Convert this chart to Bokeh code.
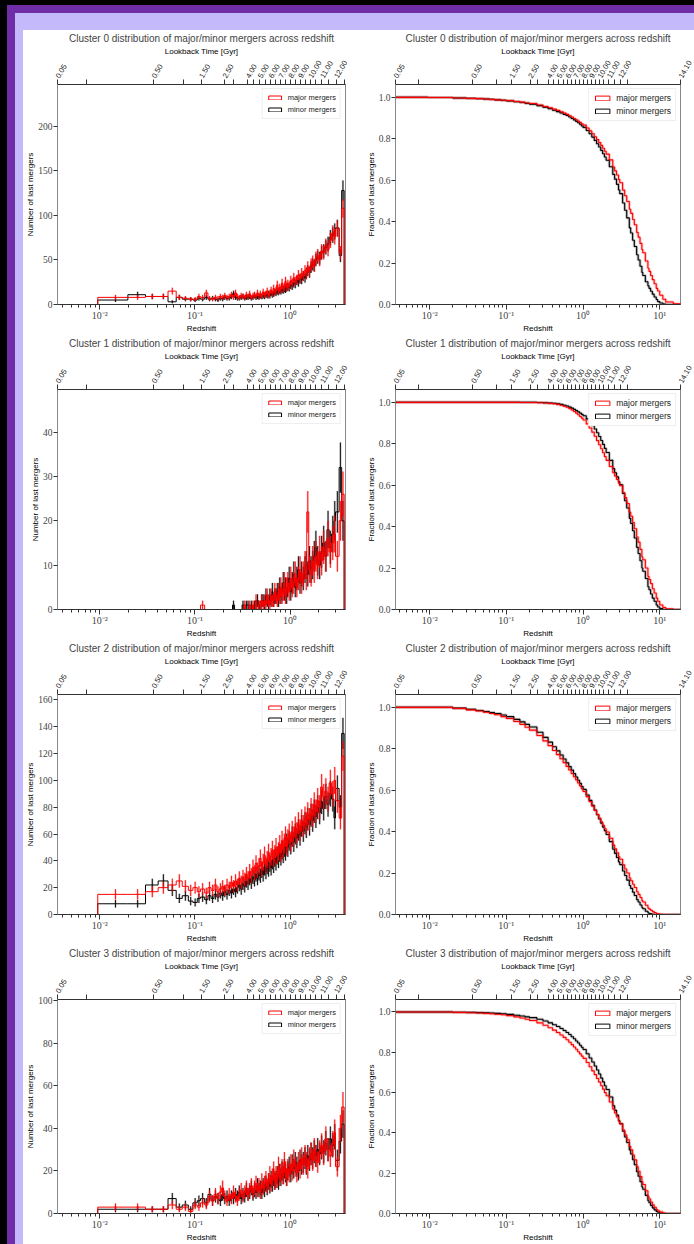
import numpy as np
from math import radians
from bokeh.plotting import figure
from bokeh.layouts import gridplot, column
from bokeh.models import (LogAxis, FixedTicker, CustomJSTickFormatter, Range1d,
                          Legend, LegendItem, PrintfTickFormatter)
from bokeh.embed import file_html
from bokeh.resources import INLINE

# ---------------- data ----------------
clusters = [0, 1, 2, 3]

# histogram bin edges (snapshot redshifts)
z_edges = [
    0.0095, 0.0197, 0.0302, 0.0410, 0.0521, 0.0635, 0.0735, 0.0852, 0.0951, 0.1058,
    0.1143, 0.1265, 0.1370, 0.1477, 0.1587, 0.1698, 0.1793, 0.1911, 0.2000, 0.2115,
    0.2235, 0.2357, 0.2482, 0.2609, 0.2738, 0.2855, 0.3000, 0.3132, 0.3267, 0.3405,
    0.3545, 0.3689, 0.3835, 0.4000, 0.4153, 0.4309, 0.4468, 0.4629, 0.4794, 0.4962,
    0.5133, 0.5307, 0.5485, 0.5665, 0.5849, 0.6037, 0.6228, 0.6422, 0.6621, 0.6823,
    0.7000, 0.7240, 0.7456, 0.7676, 0.7900, 0.8129, 0.8362, 0.8600, 0.8843, 0.9090,
    0.9343, 0.9600, 1.0000, 1.0358, 1.0738, 1.1141, 1.1565, 1.2013, 1.2486, 1.2986,
    1.3513, 1.4071, 1.4660, 1.5000, 1.5728, 1.6332, 1.6966, 1.7632, 1.8330, 1.9064,
    2.0000, 2.0978, 2.2000, 2.3155, 2.4442, 2.5772, 2.7324, 2.8960, 3.0081, 3.2830,
    3.4908, 3.7087]

c0_major = [8, 8, 9, 9, 15, 8, 7, 6, 6, 9,
            8, 13, 7, 6, 8, 7, 9, 8, 10, 8,
            9, 11, 8, 13, 9, 8, 10, 9, 8, 11,
            9, 12, 8, 10, 11, 9, 13, 10, 12, 9,
            14, 11, 12, 15, 10, 13, 16, 12, 18, 14,
            16, 22, 15, 19, 17, 24, 18, 20, 26, 19,
            23, 21, 27, 24, 30, 26, 28, 33, 29, 35,
            32, 38, 34, 42, 37, 45, 48, 43, 52, 55,
            50, 60, 58, 66, 62, 72, 80, 76, 85, 58,
            108]
c0_minor = [5, 11, 9, 9, 3, 8, 6, 6, 5, 7,
            6, 8, 6, 7, 6, 5, 7, 6, 8, 7,
            7, 9, 12, 8, 7, 7, 8, 9, 7, 8,
            8, 9, 7, 8, 10, 8, 9, 8, 10, 9,
            10, 9, 11, 10, 12, 10, 13, 11, 12, 14,
            13, 15, 14, 16, 15, 17, 16, 18, 17, 19,
            20, 19, 22, 21, 24, 23, 27, 25, 29, 28,
            32, 30, 35, 38, 36, 42, 45, 44, 50, 53,
            52, 58, 60, 64, 68, 75, 78, 82, 86, 55,
            128]
c1_major = [0, 0, 0, 0, 0, 0, 0, 0, 0, 0,
            1, 0, 0, 0, 0, 0, 0, 0, 0, 0,
            0, 0, 0, 0, 0, 0, 0, 0, 1, 0,
            0, 1, 0, 1, 0, 2, 0, 1, 1, 2,
            1, 2, 1, 3, 2, 1, 3, 2, 2, 4,
            3, 2, 4, 3, 5, 3, 4, 6, 3, 5,
            6, 4, 7, 5, 6, 8, 5, 7, 9, 6,
            8, 10, 7, 22, 9, 8, 11, 9, 12, 10,
            13, 11, 14, 12, 16, 13, 15, 17, 12, 20,
            26]
c1_minor = [0, 0, 0, 0, 0, 0, 0, 0, 0, 0,
            0, 0, 0, 0, 0, 0, 0, 0, 0, 0,
            0, 0, 1, 0, 0, 0, 0, 1, 0, 1,
            1, 0, 1, 0, 1, 1, 2, 1, 0, 2,
            2, 1, 3, 2, 1, 3, 2, 4, 2, 3,
            3, 4, 2, 5, 3, 4, 6, 4, 5, 3,
            5, 7, 4, 6, 8, 5, 7, 9, 6, 8,
            7, 9, 10, 8, 11, 9, 10, 12, 14, 11,
            10, 13, 15, 12, 18, 14, 17, 20, 22, 32,
            20]
c2_major = [15, 15, 17, 20, 22, 25, 21, 18, 20, 17,
            19, 16, 20, 18, 22, 17, 19, 21, 18, 22,
            20, 24, 21, 25, 22, 27, 24, 28, 26, 30,
            27, 32, 29, 35, 31, 38, 33, 36, 42, 34,
            39, 44, 37, 41, 46, 40, 43, 48, 42, 45,
            50, 44, 47, 52, 46, 55, 49, 53, 58, 51,
            56, 60, 54, 62, 58, 65, 61, 68, 63, 70,
            66, 72, 68, 75, 71, 78, 74, 82, 77, 85,
            80, 95, 88, 92, 86, 98, 90, 100, 85, 72,
            118]
c2_minor = [8, 8, 22, 25, 18, 12, 14, 10, 9, 12,
            13, 11, 14, 12, 15, 13, 16, 14, 17, 15,
            18, 16, 19, 17, 20, 22, 19, 23, 21, 25,
            23, 27, 24, 28, 26, 30, 27, 31, 29, 33,
            30, 35, 32, 36, 34, 38, 35, 40, 37, 42,
            39, 44, 41, 46, 43, 48, 45, 50, 47, 53,
            50, 55, 52, 58, 54, 60, 57, 63, 59, 66,
            62, 68, 65, 71, 67, 74, 70, 77, 73, 80,
            76, 84, 79, 88, 82, 90, 86, 72, 94, 80,
            135]
c3_major = [3, 3, 2, 2, 4, 2, 3, 1, 4, 3,
            5, 4, 8, 6, 9, 7, 10, 12, 8, 6,
            9, 7, 10, 8, 6, 9, 11, 8, 10, 12,
            9, 11, 13, 10, 12, 14, 11, 13, 10, 15,
            12, 14, 16, 13, 15, 18, 14, 17, 20, 15,
            18, 16, 22, 17, 19, 21, 18, 24, 20, 17,
            21, 19, 23, 20, 25, 22, 19, 24, 21, 26,
            23, 27, 24, 21, 26, 28, 25, 30, 27, 24,
            29, 32, 28, 35, 30, 27, 33, 38, 22, 40,
            50]
c3_minor = [2, 2, 2, 2, 7, 3, 4, 2, 5, 6,
            7, 5, 9, 6, 8, 7, 6, 9, 7, 8,
            6, 8, 7, 9, 8, 10, 7, 9, 8, 11,
            9, 10, 12, 9, 11, 10, 13, 11, 12, 10,
            13, 11, 14, 12, 15, 13, 16, 14, 17, 15,
            16, 18, 15, 19, 17, 20, 18, 21, 19, 17,
            20, 22, 19, 23, 21, 24, 22, 20, 25, 23,
            24, 26, 23, 27, 25, 28, 26, 29, 27, 30,
            28, 31, 29, 33, 30, 35, 32, 36, 25, 34,
            42]

# cumulative fraction curves
frac_z = [0.003, 0.0095, 0.02, 0.03, 0.04, 0.05, 0.06, 0.07, 0.085, 0.1,
          0.125, 0.15, 0.175, 0.2, 0.25, 0.3, 0.35, 0.4, 0.45, 0.5,
          0.55, 0.6, 0.65, 0.7, 0.75, 0.8, 0.85, 0.9, 0.95,
          1.0, 1.1, 1.2, 1.3,
          1.4, 1.5, 1.6, 1.7, 1.8, 1.9, 2.0, 2.2, 2.44, 2.58,
          2.73, 2.9, 3.01, 3.28, 3.49, 3.71, 4.01, 4.18, 4.43, 4.66,
          5.0, 5.23, 5.53, 5.85, 6.01, 6.49, 7.01, 7.24, 7.6, 8.01,
          8.45, 9.0, 9.39, 10.0, 10.98, 11.98, 14.99, 20.05]
f0_minor = [1.0, 0.999, 0.997, 0.995, 0.994, 0.992, 0.99, 0.988, 0.986, 0.983,
            0.979, 0.975, 0.971, 0.967, 0.96, 0.952, 0.945, 0.938, 0.931, 0.925,
            0.918, 0.912, 0.905, 0.898, 0.891, 0.884, 0.877, 0.870, 0.862,
            0.855, 0.84, 0.824, 0.808,
            0.792, 0.776, 0.76, 0.744, 0.728, 0.712, 0.696, 0.665, 0.628, 0.605,
            0.58, 0.553, 0.535, 0.49, 0.455, 0.418, 0.37, 0.345, 0.31, 0.28,
            0.24, 0.215, 0.185, 0.155, 0.14, 0.11, 0.09, 0.078, 0.064, 0.05,
            0.036, 0.024, 0.014, 0.007, 0.002, 0.0, 0.0, 0.0]
f0_major = [1.0, 0.999, 0.997, 0.995, 0.994, 0.992, 0.99, 0.988, 0.986, 0.984,
            0.98, 0.977, 0.973, 0.97, 0.963, 0.956, 0.95, 0.943, 0.937, 0.93,
            0.924, 0.918, 0.911, 0.905, 0.898, 0.892, 0.885, 0.879, 0.872,
            0.866, 0.852, 0.838, 0.824,
            0.81, 0.796, 0.782, 0.768, 0.754, 0.74, 0.726, 0.698, 0.664, 0.645,
            0.625, 0.603, 0.588, 0.552, 0.525, 0.497, 0.46, 0.44, 0.41, 0.385,
            0.348, 0.325, 0.295, 0.265, 0.25, 0.21, 0.175, 0.16, 0.14, 0.12,
            0.1, 0.078, 0.065, 0.045, 0.025, 0.012, 0.003, 0.0]
f1_minor = [1.0, 1.0, 1.0, 1.0, 1.0, 1.0, 1.0, 1.0, 1.0, 1.0,
            1.0, 1.0, 1.0, 1.0, 0.999, 0.998, 0.997, 0.995, 0.993, 0.99,
            0.986, 0.982, 0.977, 0.972, 0.966, 0.96, 0.954, 0.948, 0.942,
            0.935, 0.92, 0.904, 0.888,
            0.871, 0.853, 0.835, 0.816, 0.797, 0.778, 0.758, 0.72, 0.68, 0.66,
            0.64, 0.617, 0.602, 0.56, 0.525, 0.49, 0.44, 0.415, 0.38, 0.345,
            0.3, 0.27, 0.235, 0.2, 0.185, 0.15, 0.11, 0.095, 0.075, 0.055,
            0.04, 0.022, 0.012, 0.004, 0.0, 0.0, 0.0, 0.0]
f1_major = [1.0, 1.0, 1.0, 1.0, 1.0, 1.0, 1.0, 1.0, 1.0, 1.0,
            1.0, 0.999, 0.999, 0.999, 0.998, 0.997, 0.995, 0.993, 0.99, 0.986,
            0.981, 0.976, 0.97, 0.963, 0.956, 0.948, 0.94, 0.932, 0.924,
            0.915, 0.896, 0.876, 0.856,
            0.836, 0.815, 0.795, 0.776, 0.757, 0.738, 0.72, 0.69, 0.66, 0.645,
            0.628, 0.61, 0.598, 0.565, 0.54, 0.512, 0.47, 0.45, 0.42, 0.39,
            0.35, 0.325, 0.29, 0.255, 0.24, 0.2, 0.16, 0.145, 0.125, 0.1,
            0.08, 0.055, 0.04, 0.022, 0.01, 0.003, 0.0, 0.0]
f2_minor = [1.0, 1.0, 0.996, 0.99, 0.985, 0.98, 0.975, 0.97, 0.963, 0.955,
            0.942, 0.93, 0.918, 0.905, 0.88, 0.855, 0.832, 0.81, 0.79, 0.77,
            0.751, 0.732, 0.714, 0.697, 0.68, 0.664, 0.648, 0.633, 0.618,
            0.604, 0.577, 0.551, 0.527,
            0.504, 0.482, 0.461, 0.441, 0.422, 0.404, 0.386, 0.352, 0.315, 0.295,
            0.275, 0.254, 0.241, 0.21, 0.188, 0.166, 0.14, 0.126, 0.108, 0.092,
            0.072, 0.06, 0.046, 0.034, 0.028, 0.016, 0.008, 0.005, 0.003, 0.001,
            0.0, 0.0, 0.0, 0.0, 0.0, 0.0, 0.0, 0.0]
f2_major = [1.0, 1.0, 0.995, 0.988, 0.982, 0.976, 0.97, 0.964, 0.955, 0.946,
            0.932, 0.918, 0.904, 0.89, 0.864, 0.838, 0.815, 0.792, 0.772, 0.752,
            0.733, 0.715, 0.698, 0.681, 0.665, 0.65, 0.635, 0.621, 0.607,
            0.594, 0.569, 0.545, 0.523,
            0.502, 0.483, 0.465, 0.447, 0.43, 0.414, 0.398, 0.368, 0.335, 0.317,
            0.298, 0.279, 0.267, 0.24, 0.22, 0.2, 0.176, 0.163, 0.146, 0.13,
            0.11, 0.097, 0.082, 0.067, 0.06, 0.045, 0.031, 0.026, 0.02, 0.014,
            0.009, 0.005, 0.003, 0.001, 0.0, 0.0, 0.0, 0.0]
f3_minor = [1.0, 1.0, 0.999, 0.998, 0.997, 0.996, 0.995, 0.993, 0.991, 0.988,
            0.984, 0.98, 0.976, 0.972, 0.964, 0.955, 0.946, 0.937, 0.928, 0.918,
            0.908, 0.898, 0.888, 0.877, 0.867, 0.856, 0.846, 0.835, 0.825,
            0.814, 0.793, 0.772, 0.752,
            0.732, 0.712, 0.692, 0.672, 0.653, 0.634, 0.615, 0.578, 0.535, 0.512,
            0.488, 0.462, 0.446, 0.408, 0.38, 0.352, 0.315, 0.295, 0.267, 0.242,
            0.207, 0.185, 0.158, 0.132, 0.12, 0.09, 0.063, 0.053, 0.04, 0.028,
            0.018, 0.01, 0.006, 0.002, 0.0, 0.0, 0.0, 0.0]
f3_major = [1.0, 1.0, 0.998, 0.996, 0.995, 0.993, 0.991, 0.989, 0.986, 0.982,
            0.976, 0.97, 0.964, 0.958, 0.946, 0.934, 0.922, 0.91, 0.898, 0.886,
            0.874, 0.862, 0.85, 0.838, 0.826, 0.815, 0.803, 0.792, 0.781,
            0.77, 0.749, 0.728, 0.708,
            0.689, 0.67, 0.652, 0.634, 0.617, 0.6, 0.584, 0.553, 0.518, 0.499,
            0.479, 0.458, 0.445, 0.414, 0.39, 0.366, 0.334, 0.316, 0.29, 0.266,
            0.232, 0.21, 0.183, 0.157, 0.144, 0.113, 0.083, 0.072, 0.057, 0.043,
            0.031, 0.02, 0.013, 0.007, 0.002, 0.0, 0.0, 0.0]

hist_major = [c0_major, c1_major, c2_major, c3_major]
hist_minor = [c0_minor, c1_minor, c2_minor, c3_minor]
frac_major = [f0_major, f1_major, f2_major, f3_major]
frac_minor = [f0_minor, f1_minor, f2_minor, f3_minor]

hist_ymax = [247, 49.6, 164, 100.5]
hist_yticks = [[0, 50, 100, 150, 200], [0, 10, 20, 30, 40],
               [0, 20, 40, 60, 80, 100, 120, 140, 160], [0, 20, 40, 60, 80, 100]]
frac_yticks = [0.0, 0.2, 0.4, 0.6, 0.8, 1.0]
frac_ymax = 1.062

lookback_labeled = [0.05, 0.5, 1.5, 2.5, 4, 5, 6, 7, 8, 9, 10, 11, 12]
lookback_unlabeled = [0.1, 1.0, 3.0, 4.5, 5.5, 6.5, 7.5, 8.5, 9.5, 10.5, 11.5, 12.5]
lookback_max_right = 14.10
left_z_max = 3.83

# ---------------- helpers ----------------
SANS = "Liberation Sans"
SERIF = "Liberation Serif"
RED = "#ff0000"
BLACK = "#000000"

H0_INV_GYR = 977.79 / 70.0
OMEGA_M = 0.24
_zz = np.concatenate([[0.0], np.logspace(-6, 1.8, 60000)])
_f = 1.0 / ((1 + _zz) * np.sqrt(OMEGA_M * (1 + _zz) ** 3 + 1 - OMEGA_M))
_tl = H0_INV_GYR * np.concatenate([[0.0], np.cumsum(0.5 * (_f[1:] + _f[:-1]) * np.diff(_zz))])


def z_of_lookback(t):
    return float(np.interp(t, _tl, _zz))


z_start = z_of_lookback(0.05) * 0.999
right_z_max = z_of_lookback(lookback_max_right) * 1.001

bottom_fmt_code = """
const e = Math.round(Math.log10(tick));
const sup = {"-": "\u207b", "0": "\u2070", "1": "\u00b9", "2": "\u00b2", "3": "\u00b3"};
return "10" + String(e).split("").map(c => sup[c]).join("");
"""
top_fmt_code = """
let b = 0;
for (let i = 0; i < tv.length; i++) {
  if (Math.abs(Math.log(tv[i] / tick)) < Math.abs(Math.log(tv[b] / tick))) b = i;
}
return tl[b];
"""

minor_bottom = [m * 10.0 ** d for d in range(-3, 2) for m in range(2, 10)]


def style_axis(ax, font, size):
    ax.axis_line_color = "#333333"
    ax.major_tick_line_color = "#333333"
    ax.minor_tick_line_color = "#333333"
    ax.major_tick_in = 0
    ax.major_tick_out = 5
    ax.minor_tick_in = 0
    ax.minor_tick_out = 3
    ax.major_label_text_font = font
    ax.major_label_text_font_size = size
    ax.major_label_text_color = "#444444"
    ax.axis_label_text_font = SANS
    ax.axis_label_text_font_size = "8px"
    ax.axis_label_text_font_style = "normal"
    ax.axis_label_text_color = "#000000"


def make_panel(ci, right, height, bottom_border):
    width = 331 if right else 340
    xmax = right_z_max if right else left_z_max
    ymax = frac_ymax if right else hist_ymax[ci]
    p = figure(width=width, height=height, x_axis_type="log",
               x_range=Range1d(z_start, xmax), y_range=Range1d(0, ymax),
               output_backend="svg", toolbar_location=None,
               min_border_left=32, min_border_right=14 if right else 18,
               min_border_top=53, min_border_bottom=bottom_border,
               title=f"Cluster {ci} distribution of major/minor mergers across redshift")
    p.title.text_font = SANS
    p.title.text_font_size = "10px"
    p.title.text_font_style = "normal"
    p.title.align = "center"
    p.title.standoff = 0
    p.title.offset = 0
    p.grid.visible = False
    p.outline_line_color = "#888888"
    p.background_fill_color = "white"
    p.border_fill_color = "white"

    # bottom axis
    bx = p.below[0]
    bx.ticker = FixedTicker(ticks=[0.01, 0.1, 1.0, 10.0], minor_ticks=minor_bottom)
    bx.formatter = CustomJSTickFormatter(code=bottom_fmt_code)
    bx.axis_label = "Redshift"
    style_axis(bx, SERIF, "10px")
    bx.major_label_standoff = 0
    bx.axis_label_standoff = 0

    # left axis
    ly = p.left[0]
    ly.ticker = FixedTicker(ticks=frac_yticks if right else hist_yticks[ci])
    if right:
        ly.formatter = PrintfTickFormatter(format="%.1f")
    ly.axis_label = "Fraction of last mergers" if right else "Number of last mergers"
    style_axis(ly, SERIF, "9.5px")
    ly.axis_line_color = "#888888"
    ly.major_tick_out = 4
    ly.major_label_standoff = 1
    ly.axis_label_standoff = 0

    # top lookback axis
    labeled = list(lookback_labeled) + ([lookback_max_right] if right else [])
    unlabeled = list(lookback_unlabeled)
    tvals = [z_of_lookback(t) for t in labeled] + [z_of_lookback(t) for t in unlabeled]
    tlabs = [f"{t:.2f}" for t in labeled] + ["" for _ in unlabeled]
    if right:
        tvals[len(labeled) - 1] = right_z_max / 1.0005
    top = LogAxis(ticker=FixedTicker(ticks=tvals, minor_ticks=[]),
                  formatter=CustomJSTickFormatter(args=dict(tv=tvals, tl=tlabs), code=top_fmt_code),
                  axis_label="Lookback Time [Gyr]")
    style_axis(top, SANS, "7.5px")
    top.major_label_orientation = radians(60)
    top.major_label_standoff = 2
    top.axis_label_standoff = 0
    top.major_label_text_color = "#222222"
    p.add_layout(top, "above")

    if right:
        for vals, col in ((frac_minor[ci], BLACK), (frac_major[ci], RED)):
            p.step(x=frac_z, y=vals, mode="after", line_color=col, line_width=3, line_alpha=0.22)
        for vals, col in ((frac_minor[ci], BLACK), (frac_major[ci], RED)):
            p.step(x=frac_z, y=vals, mode="after", line_color=col, line_width=1.1)
    else:
        edges = np.array(z_edges)
        centers = 0.5 * (edges[:-1] + edges[1:])
        for vals, col in ((hist_minor[ci], BLACK), (hist_major[ci], RED)):
            c = np.array(vals, dtype=float)
            xs = [z_edges[0]] + list(z_edges)
            ys = [0.0] + list(c) + [0.0]
            p.step(x=xs, y=ys, mode="after", line_color=col, line_width=1.0)
            m = c > 0
            err = np.sqrt(c[m])
            p.segment(x0=centers[m], y0=c[m] - err, x1=centers[m], y1=c[m] + err,
                      line_color=col, line_width=2.2, line_alpha=0.22)
            p.segment(x0=centers[m], y0=c[m] - err, x1=centers[m], y1=c[m] + err,
                      line_color=col, line_width=0.9)

    nan = [float("nan")]
    r_major = p.rect(x=nan, y=nan, width=1, height=1, fill_color=None, line_color=RED, line_width=1)
    r_minor = p.rect(x=nan, y=nan, width=1, height=1, fill_color=None, line_color=BLACK, line_width=1)
    lg = Legend(items=[LegendItem(label="major mergers", renderers=[r_major]),
                       LegendItem(label="minor mergers", renderers=[r_minor])],
                location="top_right")
    lg.label_text_font = SANS
    lg.label_text_color = "#222222"
    lg.label_text_font_size = "8.5px" if right else "7.5px"
    lg.glyph_width = 18 if right else 16
    lg.glyph_height = 6 if right else 5
    lg.label_height = 9
    lg.label_standoff = 5
    lg.spacing = 3
    lg.padding = 4
    lg.margin = 4
    lg.border_line_color = "#dddddd"
    lg.background_fill_alpha = 1.0
    p.add_layout(lg)
    return p


rows = []
for i, ci in enumerate(clusters):
    h = 305 if i < 3 else 299
    bb = 30 if i < 3 else 24
    rows.append([make_panel(ci, False, h, bb), make_panel(ci, True, h, bb)])

grid = gridplot(rows, toolbar_location=None)
grid.styles = {"background-color": "white"}
lav = column(grid, styles={"background-color": "#c3b9fb", "padding-left": "8px", "padding-top": "17px"})
pur = column(lav, styles={"background-color": "#6f2da8", "padding-left": "8px", "padding-top": "8px"})
outer = column(pur, styles={"background-color": "#000000", "padding-left": "7px", "padding-top": "5px"})

open("out.html", "w").write(file_html(outer, INLINE))
